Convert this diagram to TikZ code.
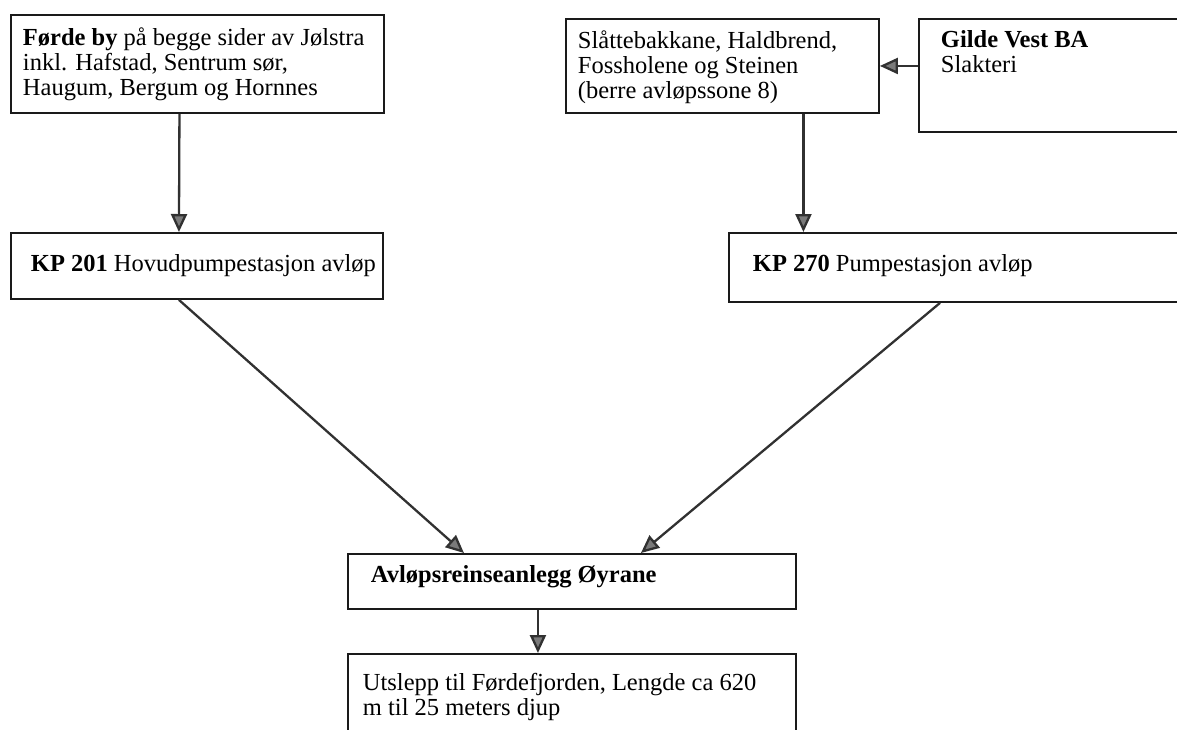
\documentclass[tikz,border=0pt]{standalone}
\usepackage{fontspec}
\setmainfont{Liberation Serif}
\usetikzlibrary{arrows.meta,positioning,calc}
\definecolor{ink}{HTML}{1a1a1a}
\definecolor{tipgray}{HTML}{7a7a7a}
\tikzset{
  blk/.style={draw=ink,line width=1.9pt,anchor=north west,inner xsep=12pt,inner ysep=10pt,
    font=\fontsize{24.5}{25}\selectfont},
  flow/.style={draw=ink!90,line width=2.3pt,-{Triangle[length=18pt,width=16pt,fill=tipgray]}},
}
% text block: width, height, contents
\newcommand{\boxtext}[3]{\parbox[t][#2pt][t]{#1pt}{\raggedright #3}}

\begin{document}
\begin{tikzpicture}[x=1pt,y=-1pt]
  \useasboundingbox (0,0) rectangle (1177,729);
  \clip (0,0) rectangle (1177,729);
  % sources
  \node[blk,inner ysep=13pt] (forde) at (10,14) {\boxtext{349}{72}{\mbox{\textbf{Førde by} på begge sider av Jølstra}\\
    inkl. Hafstad, Sentrum sør,\\ Haugum, Bergum og Hornnes}};
  \node[blk,inner ysep=12pt] (slatte) at (565,18) {\boxtext{289}{70}{Slåttebakkane, Haldbrend,\\
    Fossholene og Steinen\\ (berre avløpssone 8)}};
  \node[blk,inner xsep=22pt,inner ysep=12pt] (gilde) at (918,18) {\boxtext{236}{89}{\textbf{Gilde Vest BA}\\ Slakteri}};
  % pumpestasjonar
  \node[blk,inner xsep=20pt,inner ysep=22pt] (kp201) at (10,232) {\boxtext{332}{22}{\mbox{\textbf{KP 201} Hovudpumpestasjon avløp}}};
  \node[blk,inner xsep=24pt,inner ysep=22pt] (kp270) at (728,232) {\boxtext{412}{25}{\textbf{KP 270} Pumpestasjon avløp}};
  % reinseanlegg og utslepp
  \node[blk,inner xsep=23pt,inner ysep=12pt] (arl) at (347,553) {\boxtext{402}{31}{\textbf{Avløpsreinseanlegg Øyrane}}};
  \node[blk,inner xsep=15pt,inner ysep=19pt] (utslepp) at (347,653) {\boxtext{418}{52}{Utslepp til Førdefjorden, Lengde ca 620\\ m til 25 meters djup}};

  \draw[flow] ([xshift=-18pt]forde.south) -- ([xshift=-18pt]kp201.north);
  \draw[flow] ([xshift=81pt]slatte.south) -- ([xshift=81pt]slatte.south |- kp270.north);
  \draw[flow] (gilde.west |- slatte.east) -- (slatte.east);
  \draw[flow] ([xshift=-18pt]kp201.south) -- ([xshift=-108pt]arl.north);
  \draw[flow] ([xshift=212pt]kp270.south west) -- ([xshift=69pt]arl.north);
  \draw[flow] ([xshift=-34pt]arl.south) -- ([xshift=-34pt]utslepp.north);
\end{tikzpicture}
\end{document}
